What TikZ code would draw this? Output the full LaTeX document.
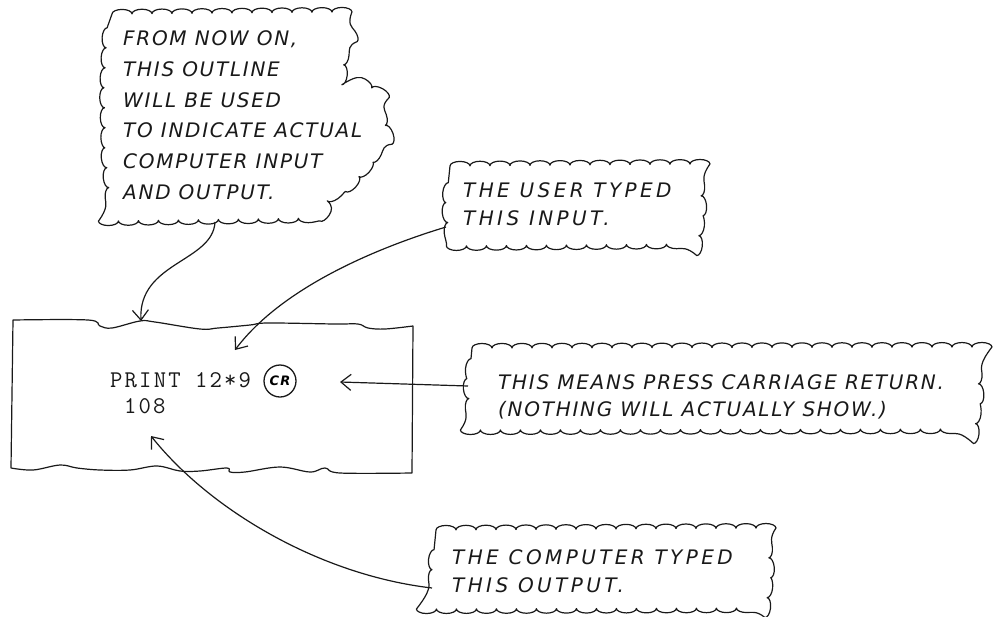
\documentclass[tikz,border=0pt]{standalone}
\usepackage{fontspec}
\newfontfamily\handA{DejaVu Sans}[LetterSpace=8.6]
\newfontfamily\handB{DejaVu Sans}[LetterSpace=17]
\newfontfamily\typew{Latin Modern Mono}[LetterSpace=9]
\usetikzlibrary{decorations.pathmorphing,arrows.meta}
\tikzset{
  cloudline/.style={draw=black!90, line width=1.2pt, line join=round,
    decorate, decoration={bumps, segment length=40pt, amplitude=4.5pt}},
  boxline/.style={draw=black!90, line width=1.2pt, line join=round},
  handtext/.style={anchor=north west, inner sep=0pt, align=left, text=black!90},
  typetext/.style={anchor=base west, inner sep=0pt, text=black!90,
    font=\typew\fontsize{24}{26}\selectfont},
  pointer/.style={draw=black!90, line width=1.2pt,
    -{Straight Barb[length=10pt,width=16pt,line width=1.2pt]}},
}
\begin{document}
\begin{tikzpicture}[x=1pt,y=-1pt]
\useasboundingbox (0,0) rectangle (993,616);

% cloud 1
\draw[cloudline] (112,14) -- (335,12) -- (347,28) -- (343,72) -- (372,88)
  -- (387,130) -- (374,160) -- (356,180) -- (338,193) -- (322,218)
  -- (112,221) -- (106,160) -- (104,90) -- (107,30) -- cycle;
\node[handtext, font=\handA\itshape\fontsize{20}{30.8}\selectfont] (t1) at (123,30.4)
  {FROM NOW ON,\\THIS OUTLINE\\WILL BE USED\\TO INDICATE ACTUAL\\COMPUTER INPUT\\AND OUTPUT.};
\coordinate (c1out) at (215,222);

% cloud 2
\draw[cloudline] (450,166) -- (698,164) -- (702,205) -- (698,244) -- (450,246) -- (446,205) -- cycle;
\node[handtext, font=\handB\itshape\fontsize{20}{28}\selectfont] (t2) at (463,182.4)
  {THE USER TYPED\\THIS INPUT.};
\coordinate (c2out) at (446,227);

% cloud 3
\draw[cloudline] (472,348) -- (975,347) -- (979,390) -- (975,429) -- (472,430) -- (468,390) -- cycle;
\node[handtext, font=\handA\itshape\fontsize{20}{27}\selectfont] (t3) at (498,374.4)
  {THIS MEANS PRESS CARRIAGE RETURN.\\(NOTHING WILL ACTUALLY SHOW.)};
\coordinate (c3out) at (468,386);

% cloud 4
\draw[cloudline] (436,530) -- (766,528) -- (770,570) -- (766,608) -- (436,609) -- (432,570) -- cycle;
\node[handtext, font=\handB\itshape\fontsize{20}{28}\selectfont] (t4) at (452,549.4)
  {THE COMPUTER TYPED\\THIS OUTPUT.};
\coordinate (c4out) at (432,588);

% paper outline
\draw[boxline] plot[smooth, tension=0.6] coordinates {(13,320) (88,320) (100,326) (112,328) (140,321) (155,322) (200,329) (218,328) (250,325) (268,323) (335,324) (358,324) (368,328) (385,329) (413,326)}
  -- (412,473)
  -- plot[smooth, tension=0.6] coordinates {(412,473) (340,473) (325,468) (310,472) (280,467) (245,472) (230,472) (227,468) (200,471) (180,471) (157,466) (130,470) (100,470) (77,468) (60,465) (33,470) (11,468)}
  -- cycle;

\node[typetext] (cmd) at (110,387) {PRINT 12*9};
\node[typetext] (res) at (124,413) {108};
\node[circle, draw=black!90, line width=1.3pt, minimum size=32pt, inner sep=0pt,
  font=\handA\bfseries\itshape\fontsize{13}{13}\selectfont] (cr) at (280,381) {CR};

\coordinate (in1) at (141,321);
\coordinate (in2) at (235,350);
\coordinate (in3) at (340,382);
\coordinate (in4) at (151,436);

\draw[pointer] (c1out) .. controls (213,262) and (138,262) .. (in1);
\draw[pointer] (c2out) .. controls (370,250) and (280,290) .. (in2);
\draw[pointer] (c3out) -- (in3);
\draw[pointer] (c4out) .. controls (320,575) and (210,510) .. (in4);
\end{tikzpicture}
\end{document}
